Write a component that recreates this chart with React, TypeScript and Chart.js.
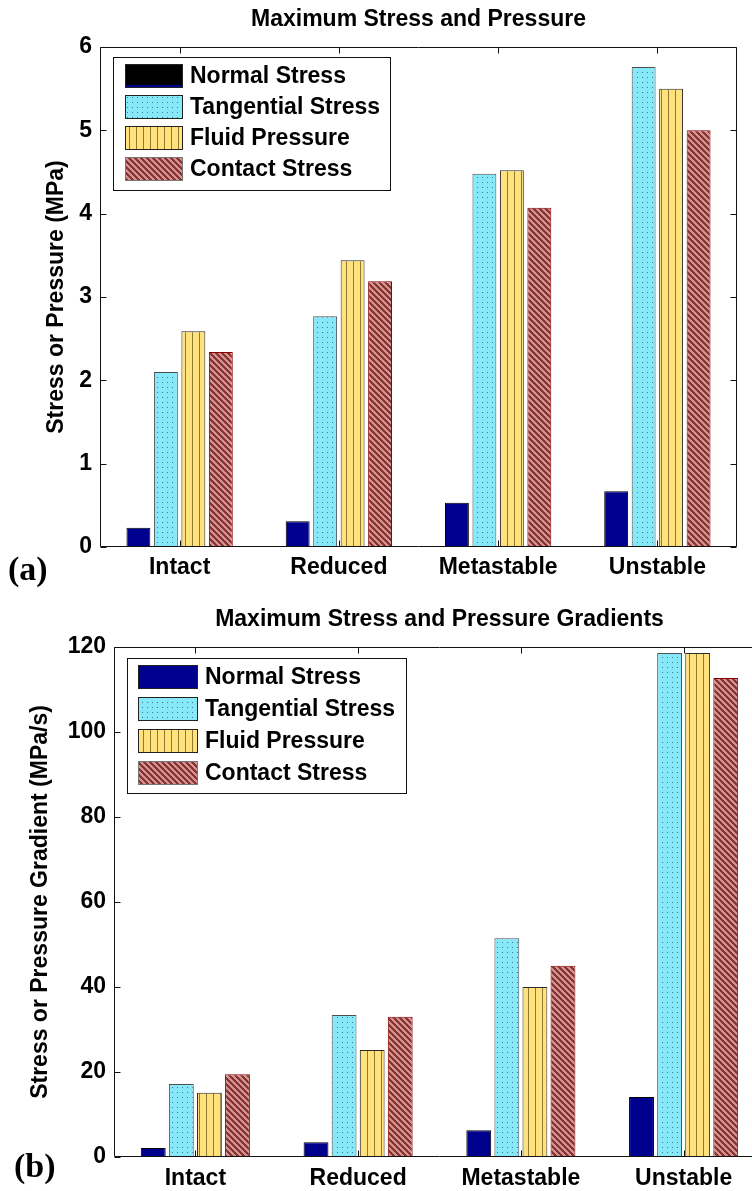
import React, { useEffect, useRef } from "react";
import { Chart, registerables } from "chart.js";

Chart.register(...registerables);

// ---- data ----
const categories = ["Intact", "Reduced", "Metastable", "Unstable"];
const seriesNames = ["Normal Stress", "Tangential Stress", "Fluid Pressure", "Contact Stress"];

// peak stress / pressure (MPa)
const stressNormal = [0.23, 0.31, 0.53, 0.67];
const stressTangential = [2.1, 2.77, 4.48, 5.76];
const stressFluid = [2.59, 3.44, 4.52, 5.5];
const stressContact = [2.34, 3.19, 4.07, 5.0];

// peak stress / pressure gradients (MPa/s)
const gradNormal = [2.1, 3.5, 6.3, 14.1];
const gradTangential = [17.2, 33.4, 51.5, 118.6];
const gradFluid = [15.1, 25.2, 40, 118.6];
const gradContact = [19.5, 33, 45, 112.7];

const stressTicks = [0, 1, 2, 3, 4, 5, 6];
const gradTicks = [0, 20, 40, 60, 80, 100, 120];

const SANS = '"Liberation Sans", Arial, Helvetica, sans-serif';
const SERIF = '"Liberation Serif", "Times New Roman", serif';

// ---- hatch fills ----
function makePatterns() {
  const mk = (w: number, h: number, draw: (c: CanvasRenderingContext2D) => void) => {
    const cv = document.createElement("canvas");
    cv.width = w;
    cv.height = h;
    const c = cv.getContext("2d")!;
    draw(c);
    return c.createPattern(cv, "repeat")!;
  };
  const dots = mk(5, 5, (c) => {
    c.fillStyle = "#86E8F8";
    c.fillRect(0, 0, 5, 5);
    c.fillStyle = "#3D7E8E";
    c.fillRect(2, 2, 1, 1);
  });
  const vlines = mk(7, 4, (c) => {
    c.fillStyle = "#FFE27E";
    c.fillRect(0, 0, 7, 4);
    c.fillStyle = "#8E7A2C";
    c.fillRect(3, 0, 1, 4);
  });
  const diag = mk(6, 6, (c) => {
    c.fillStyle = "#D29490";
    c.fillRect(0, 0, 6, 6);
    c.fillStyle = "#883232";
    for (let y = 0; y < 6; y++) {
      for (let x = 0; x < 6; x++) {
        if ((((x - y) % 6) + 6) % 6 < 3) c.fillRect(x, y, 1, 1);
      }
    }
  });
  return { dots, vlines, diag };
}

type PanelCfg = {
  title: string;
  titleY: number;
  panel: string;
  panelX: number;
  panelY: number;
  yTitle: string;
  yTitleX: number;
  ticks: number[];
  legend: { x: number; y: number; w: number; h: number; swX: number; swW: number; swH: number; textX: number; rowStep: number; firstSwatch?: string };
};

function framePlugin(cfg: PanelCfg) {
  return {
    id: "matlabFrame",
    afterDraw(chart: any) {
      const { ctx, chartArea: a } = chart;
      const xs = chart.scales.x;
      const ys = chart.scales.y;
      const L = Math.round(a.left) + 0.5;
      const R = Math.round(a.right) - 0.5;
      const T = Math.round(a.top) + 0.5;
      const B = Math.round(a.bottom) - 0.5;
      ctx.save();
      ctx.strokeStyle = "#111";
      ctx.lineWidth = 1;
      ctx.beginPath();
      ctx.rect(L, T, R - L, B - T);
      ctx.stroke();

      // inward tick marks on all four sides
      ctx.beginPath();
      for (const v of cfg.ticks) {
        const p = Math.round(ys.getPixelForValue(v)) + 0.5;
        ctx.moveTo(L, p);
        ctx.lineTo(L + 6, p);
        ctx.moveTo(R, p);
        ctx.lineTo(R - 6, p);
      }
      categories.forEach((_, i) => {
        const p = Math.round(xs.getPixelForValue(i)) + 0.5;
        ctx.moveTo(p, B);
        ctx.lineTo(p, B - 6);
        ctx.moveTo(p, T);
        ctx.lineTo(p, T + 6);
      });
      ctx.stroke();

      // title
      ctx.fillStyle = "#000";
      ctx.font = `bold 23px ${SANS}`;
      ctx.textAlign = "center";
      ctx.textBaseline = "middle";
      ctx.fillText(cfg.title, (a.left + a.right) / 2, cfg.titleY);

      // y-axis title
      ctx.save();
      ctx.translate(cfg.yTitleX, (a.top + a.bottom) / 2);
      ctx.rotate(-Math.PI / 2);
      ctx.fillText(cfg.yTitle, 0, 0);
      ctx.restore();

      // panel label
      ctx.font = `bold 34px ${SERIF}`;
      ctx.textAlign = "left";
      ctx.fillText(cfg.panel, cfg.panelX, cfg.panelY);

      // legend
      const lg = cfg.legend;
      ctx.fillStyle = "#fff";
      ctx.fillRect(lg.x, lg.y, lg.w, lg.h);
      ctx.strokeStyle = "#111";
      ctx.strokeRect(lg.x + 0.5, lg.y + 0.5, lg.w, lg.h);
      chart.data.datasets.forEach((ds: any, i: number) => {
        const top = lg.y + 7 + i * lg.rowStep;
        ctx.fillStyle = i === 0 && lg.firstSwatch ? lg.firstSwatch : ds.backgroundColor;
        ctx.fillRect(lg.swX, top, lg.swW, lg.swH);
        if (i === 0 && lg.firstSwatch) {
          ctx.fillStyle = ds.backgroundColor;
          ctx.fillRect(lg.swX, top + lg.swH - 3, lg.swW, 3);
        }
        ctx.strokeStyle = i === 3 ? "#777" : "#222";
        ctx.strokeRect(lg.swX + 0.5, top + 0.5, lg.swW - 1, lg.swH - 1);
        ctx.fillStyle = "#000";
        ctx.font = `bold 23px ${SANS}`;
        ctx.textAlign = "left";
        ctx.textBaseline = "middle";
        ctx.fillText(ds.label, lg.textX, top + lg.swH / 2 + 1);
      });
      ctx.restore();
    },
  };
}

type PanelProps = {
  width: number;
  height: number;
  top: number;
  series: number[][];
  max: number;
  step: number;
  leftW: number;
  pad: { top: number; right: number; bottom: number };
  xAxisH: number;
  tickPad: number;
  catPct: number;
  barPct: number;
  cfg: PanelCfg;
};

function BarPanel(p: PanelProps) {
  const ref = useRef<HTMLCanvasElement>(null);
  useEffect(() => {
    const pats = makePatterns();
    const fills: any[] = ["#00008F", pats.dots, pats.vlines, pats.diag];
    const borders = ["#000000", "#505050", "#2A2A2A", "#8B0000"];
    const chart = new Chart(ref.current!, {
      type: "bar",
      data: {
        labels: categories,
        datasets: seriesNames.map((label, i) => ({
          label,
          data: p.series[i],
          backgroundColor: fills[i],
          borderColor: borders[i],
          borderWidth: 1,
          categoryPercentage: p.catPct,
          barPercentage: p.barPct,
        })),
      },
      options: {
        responsive: false,
        animation: false,
        events: [],
        layout: { padding: { left: 0, top: p.pad.top, right: p.pad.right, bottom: p.pad.bottom } },
        plugins: { legend: { display: false }, tooltip: { enabled: false }, title: { display: false } },
        scales: {
          x: {
            type: "category",
            offset: true,
            grid: { display: false, drawTicks: false },
            border: { display: false },
            ticks: {
              color: "#000",
              font: { family: SANS, size: 23, weight: "bold" },
              padding: p.tickPad,
              maxRotation: 0,
              autoSkip: false,
            },
            afterFit: (s: any) => {
              s.height = p.xAxisH;
            },
          },
          y: {
            min: 0,
            max: p.max,
            grid: { display: false, drawTicks: false },
            border: { display: false },
            ticks: {
              stepSize: p.step,
              color: "#000",
              font: { family: SANS, size: 23, weight: "bold" },
              padding: 8,
            },
            afterFit: (s: any) => {
              s.width = p.leftW;
            },
          },
        },
      },
      plugins: [framePlugin(p.cfg)],
    } as any);
    return () => chart.destroy();
  }, []);
  return (
    <canvas
      ref={ref}
      width={p.width}
      height={p.height}
      style={{ position: "absolute", left: 0, top: p.top, display: "block" }}
    />
  );
}

export default function App() {
  return (
    <div
      style={{
        position: "absolute",
        left: 0,
        top: 0,
        width: 752,
        height: 1191,
        overflow: "hidden",
        background: "#fff",
      }}
    >
      <BarPanel
        width={752}
        height={595}
        top={0}
        series={[stressNormal, stressTangential, stressFluid, stressContact]}
        max={6}
        step={1}
        leftW={100}
        pad={{ top: 47, right: 15, bottom: 8 }}
        xAxisH={40}
        tickPad={7}
        catPct={0.69}
        barPct={0.87}
        cfg={{
          title: "Maximum Stress and Pressure",
          titleY: 20,
          panel: "(a)",
          panelX: 8,
          panelY: 571,
          yTitle: "Stress or Pressure (MPa)",
          yTitleX: 57,
          ticks: stressTicks,
          legend: { x: 113, y: 57, w: 277, h: 133, swX: 125, swW: 58, swH: 24, textX: 190, rowStep: 31, firstSwatch: "#000000" },
        }}
      />
      <BarPanel
        width={790}
        height={596}
        top={595}
        series={[gradNormal, gradTangential, gradFluid, gradContact]}
        max={120}
        step={20}
        leftW={114}
        pad={{ top: 52, right: 25, bottom: 4 }}
        xAxisH={30}
        tickPad={8}
        catPct={0.69}
        barPct={0.885}
        cfg={{
          title: "Maximum Stress and Pressure Gradients",
          titleY: 25,
          panel: "(b)",
          panelX: 14,
          panelY: 573,
          yTitle: "Stress or Pressure Gradient (MPa/s)",
          yTitleX: 41,
          ticks: gradTicks,
          legend: { x: 127, y: 63, w: 279, h: 135, swX: 138, swW: 60, swH: 24, textX: 205, rowStep: 32 },
        }}
      />
    </div>
  );
}
